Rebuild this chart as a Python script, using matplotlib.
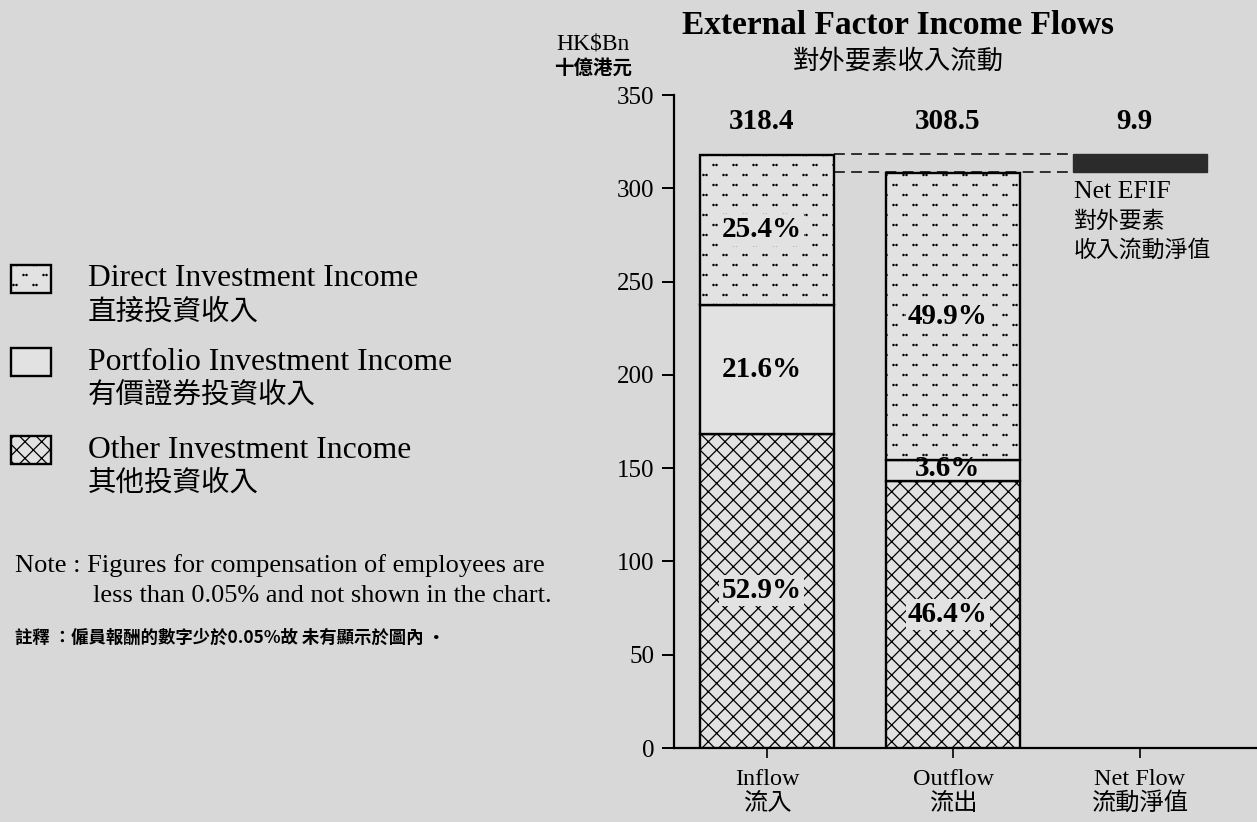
import matplotlib
matplotlib.use("Agg")
import matplotlib.pyplot as plt
import matplotlib.hatch as mhatch
from matplotlib.path import Path
from matplotlib.patches import Rectangle
import numpy as np

# ---------------- data ----------------
categories_en = ["Inflow", "Outflow", "Net Flow"]
categories_zh = ["流入", "流出", "流動淨值"]
totals = [318.4, 308.5]          # inflow, outflow (HK$Bn)
net_flow = 9.9
share_direct = [25.4, 49.9]      # % of each total
share_portfolio = [21.6, 3.6]
share_other = [52.9, 46.4]
yticks = [0, 50, 100, 150, 200, 250, 300, 350]

SERIF = "Liberation Serif"
CJK = "Noto Sans CJK TC"
MIX = [SERIF, CJK]
BG = "#d8d8d8"
FACE = "#e2e2e2"
W, H = 1257, 822


# --- custom hatch: staggered pairs of tiny dots (uses the '*' character) ---
class PairDots(mhatch.HatchPatternBase):
    rows, pairs, gap, rad = 10, 5, 0.03, 0.006

    def __init__(self, hatch, density):
        circ = Path.unit_circle()
        self.cv, self.cc = circ.vertices, circ.codes
        n = 2 * self.rows * self.pairs if "*" in hatch else 0
        self.num_vertices = n * len(self.cv)

    def set_vertices_and_codes(self, vertices, codes):
        vparts, cparts = [], []
        for r in range(self.rows):
            yy = (r + 0.5) / self.rows
            xoff = 0.5 / self.pairs if r % 2 else 0.0
            for k in range(self.pairs):
                cx = (k + 0.25) / self.pairs + xoff
                for dx in (-self.gap / 2, self.gap / 2):
                    vparts.append(self.cv * self.rad + [cx + dx, yy])
                    cparts.append(self.cc)
        np.concatenate(vparts, out=vertices)
        np.concatenate(cparts, out=codes)


mhatch._hatch_types = [t for t in mhatch._hatch_types if t is not mhatch.Stars] + [PairDots]

plt.rcParams["hatch.linewidth"] = 0.9
fig = plt.figure(figsize=(W / 100, H / 100), dpi=100, facecolor=BG)


def fx(px):
    return px / W


def fy(py):
    return 1 - py / H


ax = fig.add_axes([fx(674), fy(748), fx(W - 674), (748 - 95) / H])
ax.patch.set_alpha(0)

x = np.arange(3)
bw = 0.72
totals_arr = np.array(totals)
other = totals_arr * np.array(share_other) / 100
portfolio = totals_arr * np.array(share_portfolio) / 100
direct = totals_arr * np.array(share_direct) / 100

kw = dict(width=bw, edgecolor="black", linewidth=1.7, facecolor=FACE, zorder=3)
ax.bar(x[:2], other, hatch="xx", **kw)
ax.bar(x[:2], portfolio, bottom=other, **kw)
ax.bar(x[:2], direct, bottom=other + portfolio, hatch="*", **kw)
ax.bar(x[2], net_flow, bottom=totals[1], width=bw, color="#2b2b2b",
       edgecolor="#2b2b2b", zorder=3)

# dashed connector lines
for lvl in totals:
    ax.plot([x[0] + bw / 2, x[2] - bw / 2], [lvl, lvl],
            ls=(0, (6, 3.5)), color="#222222", lw=1.3, zorder=2)

# value labels above
for xi, v in zip(x, totals + [net_flow]):
    ax.text(xi - 0.03, 336, f"{v:.1f}", ha="center", va="center",
            family=SERIF, weight="bold", fontsize=21, zorder=5)

# percentage labels
box = dict(facecolor=FACE, edgecolor="none", pad=1.5)
for i in range(2):
    segs = [(other[i], 0, share_other[i]),
            (portfolio[i], other[i], share_portfolio[i]),
            (direct[i], other[i] + portfolio[i], share_direct[i])]
    for h, b, s in segs:
        small = h < 20
        ax.text(x[i] - 0.03, b + h / 2 + (1 if small else 0), f"{s:.1f}%",
                ha="center", va="center", family=SERIF, weight="bold",
                fontsize=21, zorder=6, bbox=None if small else box)

# Net EFIF annotation
xl = x[2] - bw / 2 + 0.005
ax.text(xl, 298, "Net EFIF", family=SERIF, fontsize=18.5,
        ha="left", va="center", zorder=5)
ax.text(xl, 282, "對外要素", family=CJK, fontsize=16.5,
        ha="left", va="center", zorder=5)
ax.text(xl, 267, "收入流動淨值", family=CJK, fontsize=16.5,
        ha="left", va="center", zorder=5)

ax.set_xlim(-0.50, 2.63)
ax.set_ylim(0, 350)
for s in ["top", "right"]:
    ax.spines[s].set_visible(False)
ax.spines["left"].set_linewidth(1.6)
ax.spines["bottom"].set_linewidth(1.6)
ax.set_yticks(yticks)
ax.set_yticklabels([str(t) for t in yticks], family=SERIF, fontsize=18)
ax.set_xticks(x)
ax.set_xticklabels([f"{e}\n{z}" for e, z in zip(categories_en, categories_zh)],
                   family=MIX, fontsize=17.5, linespacing=1.15)
ax.tick_params(axis="y", direction="out", length=9, width=1.4, pad=5)
ax.tick_params(axis="x", direction="out", length=7, width=1.2, pad=8)

# titles
fig.text(fx(898), fy(25), "External Factor Income Flows", family=SERIF,
         weight="bold", fontsize=24, ha="center", va="center")
fig.text(fx(898), fy(61), "對外要素收入流動", family=CJK, fontsize=19,
         ha="center", va="center")
fig.text(fx(556), fy(44), "HK$Bn", family=SERIF, fontsize=17,
         ha="left", va="center")
fig.text(fx(554), fy(68), "十億港元", family=CJK, fontsize=14, weight="bold",
         ha="left", va="center")

# legend
leg = [("*", "Direct Investment Income", "直接投資收入", 279),
       (None, "Portfolio Investment Income", "有價證券投資收入", 362),
       ("xx", "Other Investment Income", "其他投資收入", 450)]
for hatch, en, zh, cy in leg:
    r = Rectangle((fx(11), fy(cy + 14)), fx(40), 28 / H, transform=fig.transFigure,
                  facecolor=FACE, edgecolor="black", linewidth=1.7, hatch=hatch)
    fig.add_artist(r)
    fig.text(fx(88), fy(cy), en, family=SERIF, fontsize=22.8, ha="left", va="center")
    fig.text(fx(88), fy(cy + 33), zh, family=CJK, fontsize=20.5, ha="left", va="center")

# note
fig.text(fx(15), fy(566), "Note : Figures for compensation of employees are",
         family=SERIF, fontsize=19, ha="left", va="center")
fig.text(fx(93), fy(596), "less than 0.05% and not shown in the chart.",
         family=SERIF, fontsize=19, ha="left", va="center")
fig.text(fx(15), fy(638), "註釋 ：僱員報酬的數字少於0.05%故 未有顯示於圖內 •",
         family=[CJK, "DejaVu Sans"], fontsize=12.5, weight="bold",
         ha="left", va="center")

fig.savefig("out.png", dpi=100, facecolor=BG)
